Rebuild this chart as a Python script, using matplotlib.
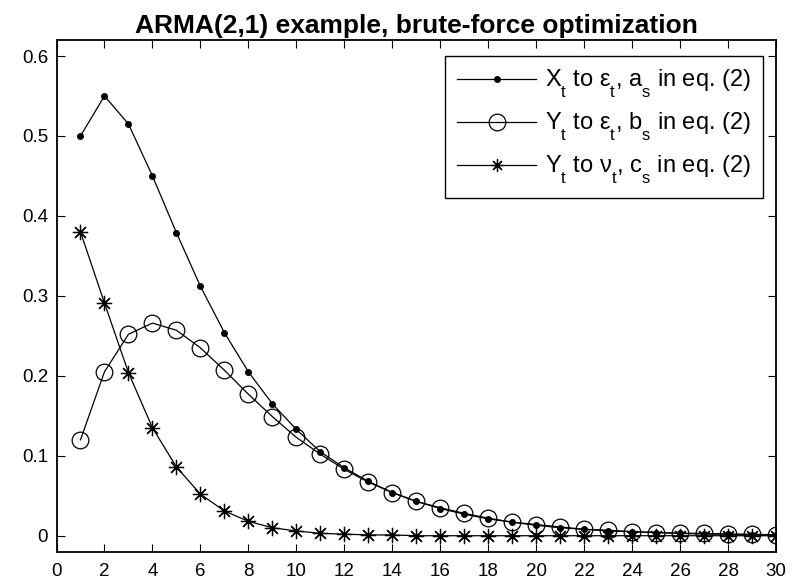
import numpy as np
import matplotlib
matplotlib.use("Agg")
import matplotlib.pyplot as plt
from matplotlib import _mathtext

plt.rcParams['font.family'] = ['Liberation Sans', 'DejaVu Sans']
plt.rcParams['mathtext.fontset'] = 'custom'
plt.rcParams['mathtext.rm'] = 'Liberation Sans'
plt.rcParams['mathtext.default'] = 'regular'
# drop subscripts lower, like the TeX interpreter of the original
_mathtext.FontConstantsBase.sub1 = 0.85

# lag s = 1..30
lags = np.arange(1, 31)

# X_t to eps_t  (a_s)
a_vals = [0.500, 0.550, 0.515, 0.450, 0.379, 0.312, 0.254, 0.205, 0.165, 0.133,
          0.105, 0.085, 0.068, 0.054, 0.043, 0.034, 0.027, 0.021, 0.017, 0.013,
          0.010, 0.008, 0.006, 0.005, 0.004, 0.003, 0.002, 0.002, 0.001, 0.001]

# Y_t to eps_t  (b_s)
b_vals = [0.120, 0.205, 0.252, 0.266, 0.257, 0.235, 0.207, 0.177, 0.149, 0.123,
          0.102, 0.083, 0.067, 0.054, 0.043, 0.035, 0.028, 0.022, 0.017, 0.014,
          0.011, 0.008, 0.007, 0.005, 0.004, 0.003, 0.003, 0.002, 0.002, 0.001]

# Y_t to nu_t  (c_s)
c_vals = [0.380, 0.291, 0.204, 0.135, 0.086, 0.052, 0.031, 0.018, 0.010, 0.006,
          0.003, 0.002, 0.001, 0.001, 0.000, 0.000, 0.000, 0.000, 0.000, 0.000,
          0.000, 0.000, 0.000, 0.000, 0.000, 0.000, 0.000, 0.000, 0.000, 0.000]

labels = [r'X$_{t}$ to ε$_{t}$, a$_{s}$ in eq. (2)',
          r'Y$_{t}$ to ε$_{t}$, b$_{s}$ in eq. (2)',
          r'Y$_{t}$ to ν$_{t}$, c$_{s}$ in eq. (2)']

fig = plt.figure(figsize=(8.05, 5.87), dpi=100)
ax = fig.add_axes([0.0702, 0.0601, 0.8938, 0.8717])

ax.plot(lags, a_vals, '-', color='k', lw=0.9, marker='o', ms=4, label=labels[0])
ax.plot(lags, b_vals, '-', color='k', lw=0.9, marker='o', ms=12,
        mfc='none', mew=0.9, label=labels[1])
ax.plot(lags, c_vals, '-', color='k', lw=0.9, marker=(8, 2, 0), ms=11,
        mew=0.9, label=labels[2])

ax.set_xlim(0, 30)
ax.set_ylim(-0.02, 0.62)
ax.set_xticks(np.arange(0, 31, 2))
ax.set_yticks(np.arange(0, 0.61, 0.1))
ax.set_yticklabels(['0', '0.1', '0.2', '0.3', '0.4', '0.5', '0.6'])
ax.tick_params(direction='in', top=True, right=True, length=5.5, width=0.8,
               labelsize=13.5)
ax.tick_params(axis='x', pad=8)
ax.tick_params(axis='y', pad=6)
for sp in ax.spines.values():
    sp.set_linewidth(1.3)

ax.set_title('ARMA(2,1) example, brute-force optimization', fontsize=19,
             fontweight='bold', pad=5)

leg = ax.legend(loc='upper right', bbox_to_anchor=(763 / 805, 1 - 56 / 587),
                bbox_transform=fig.transFigure, borderaxespad=0,
                fontsize=17, handlelength=3.35, handletextpad=0.38,
                fancybox=False, edgecolor='k', framealpha=1,
                labelspacing=0.47, borderpad=0.5)
leg.get_frame().set_linewidth(1.0)
leg.legend_handles[2].set_markersize(9)

fig.savefig('out.png', dpi=100)
